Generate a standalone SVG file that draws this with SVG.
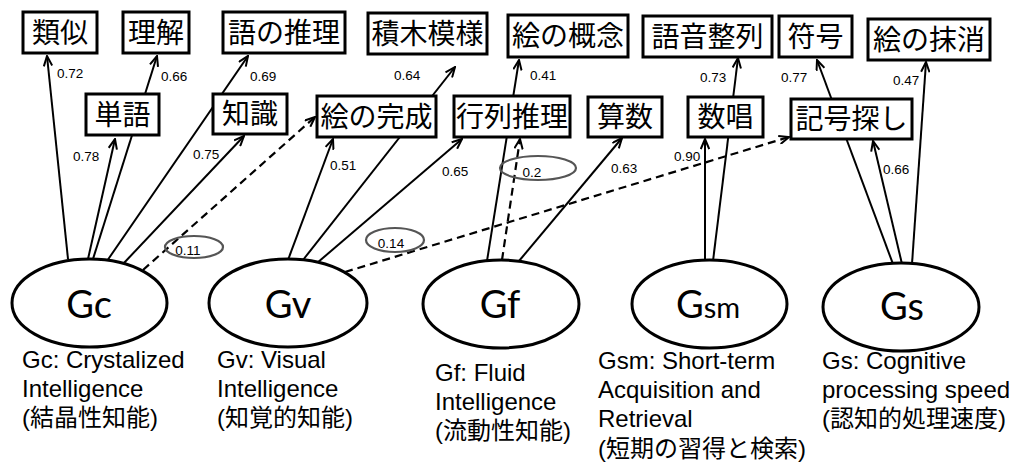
<svg xmlns="http://www.w3.org/2000/svg" width="1019" height="472" viewBox="0 0 1019 472">
<style>
.box{fill:#fff;stroke:#000;stroke-width:3}
.bt{font-family:"Noto Sans CJK JP","Noto Sans CJK SC",sans-serif;font-size:28px;text-anchor:middle;fill:#000}
.ell{fill:#fff;stroke:#000;stroke-width:3}
.et{font-family:Lato,"Open Sans",sans-serif;font-size:38px;text-anchor:middle;fill:#000}
.lab{font-family:"Liberation Sans","Noto Sans CJK JP",sans-serif;font-size:24px;fill:#000}
.c{font-family:"Liberation Sans",Arial,sans-serif;font-size:13.5px;fill:#000}
.ln{stroke:#000;stroke-width:2;fill:none;marker-end:url(#ah)}
.dl{stroke:#000;stroke-width:2.2;fill:none;stroke-dasharray:8,5;marker-end:url(#ah)}
.ce{fill:none;stroke:#555;stroke-width:2.2}
</style>
<defs>
<marker id="ah" viewBox="0 0 12 10" refX="11" refY="5" markerWidth="12" markerHeight="10" markerUnits="userSpaceOnUse" orient="auto">
<path d="M1,0.8 L11,5 L1,9.2" fill="none" stroke="#000" stroke-width="2"/>
</marker>
</defs>
<rect width="1019" height="472" fill="#fff"/>
<g id="connectors">
<line class="ln" x1="68" y1="259" x2="47" y2="56"/>
<line class="ln" x1="88" y1="259" x2="115" y2="139"/>
<line class="ln" x1="93" y1="259" x2="157" y2="56"/>
<line class="ln" x1="107" y1="261" x2="248" y2="56"/>
<line class="ln" x1="123" y1="264" x2="244" y2="136"/>
<line class="dl" x1="143" y1="270" x2="315" y2="117"/>
<line class="ln" x1="288" y1="260" x2="333" y2="139"/>
<line class="ln" x1="303" y1="260" x2="455" y2="67"/>
<line class="ln" x1="317" y1="263" x2="462" y2="139"/>
<line class="dl" x1="345" y1="272" x2="789" y2="137"/>
<line class="ln" x1="487" y1="261" x2="519" y2="60"/>
<line class="dl" x1="502" y1="260" x2="520" y2="139"/>
<line class="ln" x1="519" y1="261" x2="622" y2="138"/>
<line class="ln" x1="705" y1="261" x2="705" y2="139"/>
<line class="ln" x1="713" y1="261" x2="738" y2="58"/>
<line class="ln" x1="893" y1="264" x2="817" y2="60"/>
<line class="ln" x1="902" y1="264" x2="873" y2="141"/>
<line class="ln" x1="912" y1="264" x2="926" y2="62"/>
<text class="c" x="57" y="78">0.72</text>
<text class="c" x="161" y="81">0.66</text>
<text class="c" x="250" y="81">0.69</text>
<text class="c" x="73" y="161">0.78</text>
<text class="c" x="193" y="159">0.75</text>
<text class="c" x="394" y="80">0.64</text>
<text class="c" x="530" y="80">0.41</text>
<text class="c" x="330" y="170">0.51</text>
<text class="c" x="442" y="176">0.65</text>
<text class="c" x="611" y="173">0.63</text>
<text class="c" x="700" y="82">0.73</text>
<text class="c" x="781" y="82">0.77</text>
<text class="c" x="893" y="85">0.47</text>
<text class="c" x="674" y="161">0.90</text>
<text class="c" x="883" y="174">0.66</text>
<ellipse class="ce" cx="194" cy="247" rx="29" ry="11"/>
<text class="c" x="188" y="255" text-anchor="middle">0.11</text>
<ellipse class="ce" cx="395" cy="240" rx="29" ry="12"/>
<text class="c" x="391" y="248" text-anchor="middle">0.14</text>
<ellipse class="ce" cx="538" cy="168" rx="38" ry="12"/>
<text class="c" x="532" y="177" text-anchor="middle">0.2</text>
</g>
<g id="n-ruiji"><rect class="box" x="23" y="12" width="74" height="41"/><text class="bt" x="60" y="42.5">類似</text></g>
<g id="n-rikai"><rect class="box" x="123" y="12" width="66" height="41"/><text class="bt" x="156" y="42.5">理解</text></g>
<g id="n-gonosuiri"><rect class="box" x="223" y="12" width="122" height="41"/><text class="bt" x="284" y="42.5">語の推理</text></g>
<g id="n-tsumiki"><rect class="box" x="368" y="13" width="119" height="41"/><text class="bt" x="427.5" y="43.5">積木模様</text></g>
<g id="n-enogainen"><rect class="box" x="508" y="15" width="120" height="42"/><text class="bt" x="568" y="46">絵の概念</text></g>
<g id="n-goon"><rect class="box" x="643" y="16" width="129" height="41"/><text class="bt" x="707.5" y="46.5">語音整列</text></g>
<g id="n-fugo"><rect class="box" x="779" y="16" width="73" height="41"/><text class="bt" x="815.5" y="46.5">符号</text></g>
<g id="n-massho"><rect class="box" x="868" y="19" width="122" height="41"/><text class="bt" x="929" y="49.5">絵の抹消</text></g>
<g id="n-tango"><rect class="box" x="86" y="94" width="73" height="41"/><text class="bt" x="122.5" y="124.5">単語</text></g>
<g id="n-chishiki"><rect class="box" x="213" y="94" width="74" height="40"/><text class="bt" x="250" y="124">知識</text></g>
<g id="n-kansei"><rect class="box" x="317" y="96" width="119" height="41"/><text class="bt" x="376.5" y="126.5">絵の完成</text></g>
<g id="n-gyoretsu"><rect class="box" x="454" y="96" width="116" height="41"/><text class="bt" x="512" y="126.5">行列推理</text></g>
<g id="n-sansu"><rect class="box" x="588" y="97" width="74" height="40"/><text class="bt" x="625" y="127">算数</text></g>
<g id="n-suisho"><rect class="box" x="688" y="97" width="75" height="40"/><text class="bt" x="725.5" y="127">数唱</text></g>
<g id="n-kigo"><rect class="box" x="791" y="99" width="121" height="40"/><text class="bt" x="851.5" y="129">記号探し</text></g>
<g id="n-gc"><ellipse class="ell" cx="89.5" cy="303" rx="77.5" ry="44"/><text class="et" x="89" y="318">Gc</text>
<text class="lab" x="22" y="368">Gc: Crystalized</text><text class="lab" x="22" y="397">Intelligence</text><text class="lab" x="22" y="426">(結晶性知能)</text></g>
<g id="n-gv"><ellipse class="ell" cx="288" cy="303" rx="79" ry="44"/><text class="et" x="288" y="318">Gv</text>
<text class="lab" x="217" y="368">Gv: Visual</text><text class="lab" x="217" y="397">Intelligence</text><text class="lab" x="217" y="426">(知覚的知能)</text></g>
<g id="n-gf"><ellipse class="ell" cx="501" cy="304" rx="78" ry="44"/><text class="et" x="500" y="318">Gf</text>
<text class="lab" x="435" y="381">Gf: Fluid</text><text class="lab" x="435" y="410">Intelligence</text><text class="lab" x="435" y="439">(流動性知能)</text></g>
<g id="n-gsm"><ellipse class="ell" cx="709.5" cy="304" rx="77.5" ry="44"/><text class="et" x="708" y="318">G<tspan font-size="29">sm</tspan></text>
<text class="lab" x="598" y="369">Gsm: Short-term</text><text class="lab" x="598" y="398">Acquisition and</text><text class="lab" x="598" y="427">Retrieval</text><text class="lab" x="598" y="457">(短期の習得と検索)</text></g>
<g id="n-gs"><ellipse class="ell" cx="901" cy="307" rx="78" ry="44"/><text class="et" x="902" y="320">Gs</text>
<text class="lab" x="822" y="369">Gs: Cognitive</text><text class="lab" x="822" y="398">processing speed</text><text class="lab" x="822" y="427">(認知的処理速度)</text></g>
</svg>
